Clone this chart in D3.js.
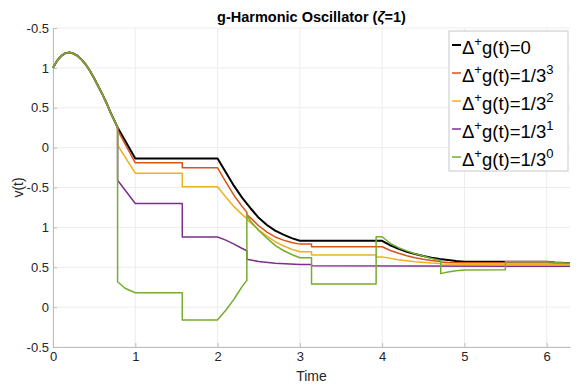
<!DOCTYPE html>
<html>
<head>
<meta charset="utf-8">
<script src="https://cdn.jsdelivr.net/npm/d3@7"></script>
<style>
  body { margin: 0; background: #fff; }
  text { font-family: "Liberation Sans", Arial, sans-serif; }
</style>
</head>
<body>
<div id="wrapper"></div>
<script>
// shared start of every curve, up to t = pi/4
const startCurve = [
  [0, 3.0], [0.05, 3.09], [0.1, 3.15], [0.15, 3.185], [0.2, 3.193], [0.25, 3.18],
  [0.3, 3.15], [0.35, 3.10], [0.4, 3.04], [0.45, 2.96], [0.5, 2.87], [0.55, 2.77],
  [0.6, 2.67], [0.65, 2.56], [0.7, 2.44], [0.785, 2.253]
]

// values after t = pi/4 (duplicate t = a jump)
const blackTail = [
  [1.0, 1.865], [2.0, 1.865], [2.1, 1.69], [2.2, 1.52], [2.3, 1.37], [2.4, 1.24], [2.5, 1.12],
  [2.6, 1.03], [2.7, 0.96], [2.8, 0.91], [2.9, 0.865], [3.0, 0.832], [4.0, 0.832], [4.1, 0.775],
  [4.2, 0.73], [4.3, 0.695], [4.4, 0.665], [4.5, 0.64], [4.6, 0.62], [4.7, 0.603], [4.8, 0.59],
  [4.9, 0.578], [5.0, 0.569], [6.0, 0.569], [6.1, 0.56], [6.283, 0.55]
]
const orangeTail = [
  [0.785, 2.22], [1.0, 1.81], [1.571, 1.81], [1.571, 1.747], [2.0, 1.747], [2.1, 1.57], [2.2, 1.40],
  [2.3, 1.26], [2.356, 1.19], [2.356, 1.16], [2.4, 1.12], [2.5, 1.02], [2.6, 0.94], [2.7, 0.88],
  [2.8, 0.84], [2.9, 0.81], [3.0, 0.79], [3.142, 0.79], [3.142, 0.757], [4.0, 0.757], [4.1, 0.71],
  [4.2, 0.675], [4.3, 0.645], [4.4, 0.62], [4.5, 0.60], [4.6, 0.585], [4.712, 0.572], [4.712, 0.565],
  [4.8, 0.56], [5.0, 0.555], [6.0, 0.555], [6.283, 0.545]
]
const yellowTail = [
  [0.785, 2.03], [1.0, 1.68], [1.571, 1.68], [1.571, 1.51], [2.0, 1.51], [2.1, 1.38], [2.2, 1.26],
  [2.3, 1.16], [2.356, 1.11], [2.356, 1.10], [2.4, 1.06], [2.5, 0.97], [2.6, 0.89], [2.7, 0.82],
  [2.8, 0.77], [2.9, 0.725], [3.0, 0.694], [3.142, 0.694], [3.142, 0.655], [3.927, 0.655],
  [3.927, 0.63], [4.0, 0.63], [4.2, 0.595], [4.4, 0.57], [4.6, 0.553], [4.712, 0.547],
  [4.712, 0.54], [5.0, 0.537], [6.0, 0.537], [6.283, 0.535]
]
const purpleTail = [
  [0.785, 1.59], [1.0, 1.30], [1.571, 1.30], [1.571, 0.88], [2.0, 0.88], [2.1, 0.84], [2.2, 0.79],
  [2.3, 0.735], [2.356, 0.707], [2.356, 0.60], [2.5, 0.572], [2.7, 0.55], [3.0, 0.536],
  [3.142, 0.536], [3.142, 0.52], [6.283, 0.512]
]
const greenTail = [
  [0.785, 0.318], [0.875, 0.236], [1.0, 0.18], [1.571, 0.18], [1.571, -0.162], [2.0, -0.162],
  [2.05, -0.10], [2.1, -0.04], [2.15, 0.03], [2.2, 0.10], [2.25, 0.18], [2.3, 0.26], [2.356, 0.335],
  [2.356, 1.154], [2.4, 1.08], [2.5, 0.96], [2.6, 0.865], [2.7, 0.775], [2.8, 0.71], [2.9, 0.66],
  [3.0, 0.619], [3.142, 0.619], [3.142, 0.289], [3.927, 0.289], [3.927, 0.882], [4.0, 0.882],
  [4.1, 0.80], [4.2, 0.745], [4.3, 0.705], [4.4, 0.67], [4.5, 0.64], [4.6, 0.61], [4.712, 0.585],
  [4.712, 0.42], [4.8, 0.44], [4.9, 0.455], [5.0, 0.465], [5.498, 0.47], [5.498, 0.569],
  [6.0, 0.569], [6.1, 0.56], [6.283, 0.55]
]

const seriesColors = ["#000000", "#D95319", "#EDB120", "#7E2F8E", "#77AC30"]
const legendValues = ["0", "1/3", "1/3", "1/3", "1/3"]
const legendExponents = ["", "3", "2", "1", "0"]

const xTicks = [0, 1, 2, 3, 4, 5, 6]
const yTicks = [-0.5, 0, 0.5, 1, 1.5, 2, 2.5, 3, 3.5]
const yTickLabels = ["-0.5", "0", "0.5", "1", "-0.5", "0", "0.5", "1", "-0.5"]

function drawChart() {
  const series = [blackTail, orangeTail, yellowTail, purpleTail, greenTail]
    .map(tail => startCurve.concat(tail))

  let dims = {
    width: 579,
    height: 386,
    margin: { top: 28, right: 9, bottom: 39, left: 53 },
  }
  dims.boundWidth = dims.width - dims.margin.left - dims.margin.right
  dims.boundHeight = dims.height - dims.margin.top - dims.margin.bottom

  const wrapper = d3.select("#wrapper")
    .append("svg")
      .attr("width", dims.width)
      .attr("height", dims.height)

  const bound = wrapper.append("g")
    .attr("transform", `translate(${dims.margin.left},${dims.margin.top})`)

  const xScale = d3.scaleLinear()
    .domain([0, 2 * Math.PI])
    .range([0, dims.boundWidth])

  const yScale = d3.scaleLinear()
    .domain([-0.5, 3.5])
    .range([dims.boundHeight, 0])

  // grid
  bound.append("g").selectAll("line")
    .data(xTicks)
    .join("line")
      .attr("x1", d => xScale(d)).attr("x2", d => xScale(d))
      .attr("y1", 0).attr("y2", dims.boundHeight)
      .attr("stroke", "#ececec")
  bound.append("g").selectAll("line")
    .data(yTicks)
    .join("line")
      .attr("x1", 0).attr("x2", dims.boundWidth)
      .attr("y1", d => yScale(d)).attr("y2", d => yScale(d))
      .attr("stroke", "#ececec")

  // axes
  const xAxis = bound.append("g")
    .attr("transform", `translate(0,${dims.boundHeight})`)
    .call(d3.axisBottom(xScale).tickValues(xTicks).tickFormat(d3.format("d"))
      .tickSizeInner(-4).tickSizeOuter(0).tickPadding(5))
  const yAxis = bound.append("g")
    .call(d3.axisLeft(yScale).tickValues(yTicks).tickFormat((d, i) => yTickLabels[i])
      .tickSizeInner(-4).tickSizeOuter(0).tickPadding(4))

  for (const ax of [xAxis, yAxis]) {
    ax.select(".domain").attr("stroke", "#bdbdbd")
    ax.selectAll(".tick line").attr("stroke", "#bdbdbd")
    ax.selectAll(".tick text")
      .attr("fill", "#262626")
      .style("font-size", "13px")
      .style("font-family", "Liberation Sans, Arial, sans-serif")
  }

  // lines
  const line = d3.line()
    .x(d => xScale(d[0]))
    .y(d => yScale(d[1]))

  bound.append("g").selectAll("path")
    .data(series)
    .join("path")
      .attr("d", d => line(d))
      .attr("fill", "none")
      .attr("stroke", (d, i) => seriesColors[i])
      .attr("stroke-width", (d, i) => i === 0 ? 2 : 1.5)
      .attr("stroke-linejoin", "round")

  // title and axis labels
  const title = wrapper.append("text")
    .attr("x", dims.margin.left + dims.boundWidth / 2)
    .attr("y", 22)
    .attr("text-anchor", "middle")
    .style("font-size", "14.5px")
    .style("font-weight", "bold")
    .attr("fill", "#000")
  title.append("tspan").text("g-Harmonic Oscillator (")
  title.append("tspan").style("font-style", "italic").text("ζ")
  title.append("tspan").text("=1)")

  wrapper.append("text")
    .attr("x", dims.margin.left + dims.boundWidth / 2)
    .attr("y", 381)
    .attr("text-anchor", "middle")
    .style("font-size", "14px")
    .attr("fill", "#262626")
    .text("Time")

  wrapper.append("text")
    .attr("transform", `translate(23,${dims.margin.top + dims.boundHeight / 2}) rotate(-90)`)
    .attr("text-anchor", "middle")
    .style("font-size", "14px")
    .attr("fill", "#262626")
    .text("v(t)")

  // legend
  const legend = wrapper.append("g")
    .attr("transform", "translate(449,31)")
  legend.append("rect")
    .attr("width", 119).attr("height", 140)
    .attr("fill", "#fff")
    .attr("stroke", "#c8c8c8")

  const rows = legend.selectAll("g.row")
    .data(seriesColors)
    .join("g")
      .attr("class", "row")
      .attr("transform", (d, i) => `translate(0,${14 + i * 28})`)
  rows.append("line")
    .attr("x1", 3).attr("x2", 12)
    .attr("stroke", d => d)
    .attr("stroke-width", (d, i) => i === 0 ? 2 : 1.5)
  const label = rows.append("text")
    .attr("x", 13)
    .attr("y", 9)
    .style("font-size", "18.5px")
    .attr("fill", "#000")
  label.append("tspan").text("Δ")
  label.append("tspan").attr("dy", -8).style("font-size", "13px").text("+")
  label.append("tspan").attr("dy", 8).text((d, i) => "g(t)=" + legendValues[i])
  label.append("tspan").attr("dy", -8).style("font-size", "13px")
    .text((d, i) => legendExponents[i])
}

drawChart()
</script>
</body>
</html>
